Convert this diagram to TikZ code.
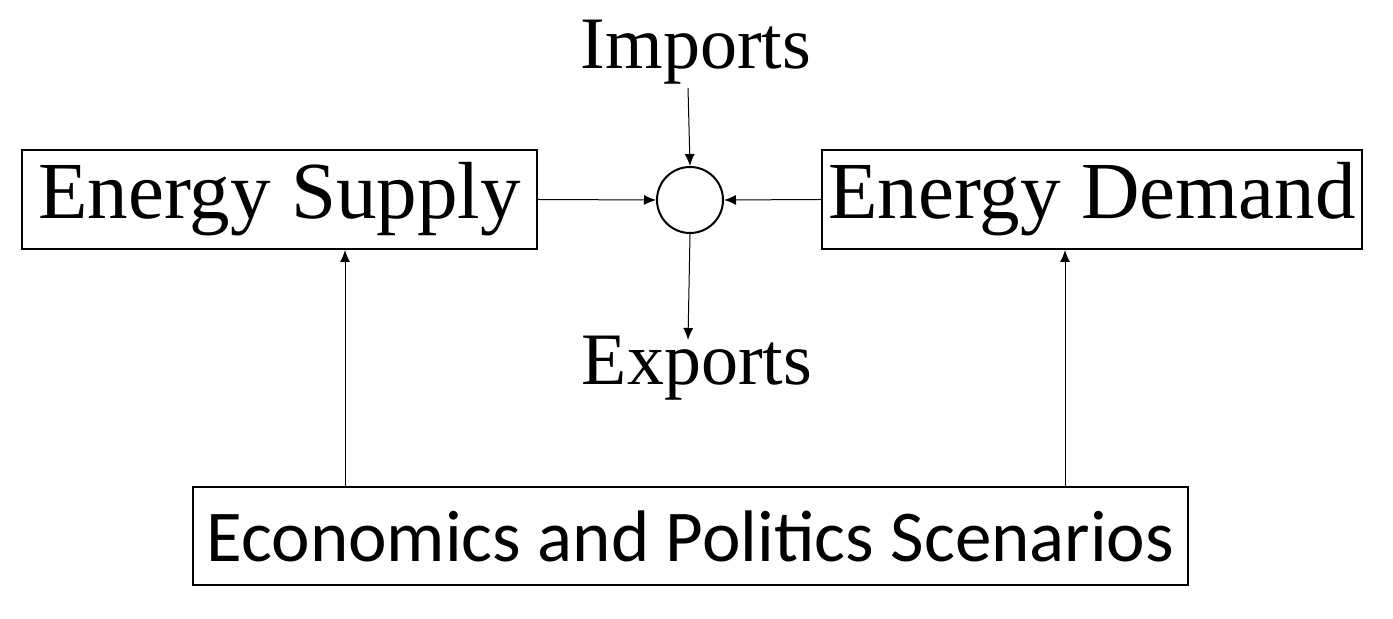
\documentclass[tikz,border=0pt]{standalone}
\usepackage{fontspec}
\setmainfont{Liberation Serif}
\newfontfamily\sansf{Carlito}
\usetikzlibrary{arrows.meta}
\begin{document}
\begin{tikzpicture}[x=0.5pt,y=-0.5pt,
  box/.style={draw,line width=1pt,inner sep=0pt},
  arr/.style={-{Latex[length=6pt,width=5pt]},line width=0.5pt},
  big/.style={font=\fontsize{40.5}{44}\selectfont},
  mid/.style={font=\fontsize{37}{40}\selectfont}]
\useasboundingbox (0,0) rectangle (1393,619);
\node[box,minimum width=257.5pt,minimum height=49.5pt,big] (sup) at (279.5,199.5) {Energy Supply};
\node[box,minimum width=270pt,minimum height=49.5pt,big] (dem) at (1092,199.5) {Energy Demand};
\node[draw,circle,line width=1pt,minimum size=33pt,inner sep=0pt] (c) at (690,200) {};
\node[mid,inner sep=0pt] (imp) at (696,52) {Imports};
\node[mid,inner sep=0pt] (exp) at (697,368) {Exports};
\node[box,minimum width=497.5pt,minimum height=49pt,font=\sansf\fontsize{36.5}{40}\selectfont] (eco) at (690.5,536) {Economics and Politics Scenarios};
\coordinate (i1) at (688,88);
\coordinate (e1) at (688,340);
\draw[arr] (i1) -- (c.north);
\draw[arr] (c.south) -- (e1);
\draw[arr] (sup.east) -- (c.west);
\draw[arr] (dem.west) -- (c.east);
\draw[arr] (eco.north -| 345,0) -- (sup.south -| 345,0);
\draw[arr] (eco.north -| 1065,0) -- (dem.south -| 1065,0);
\end{tikzpicture}
\end{document}
